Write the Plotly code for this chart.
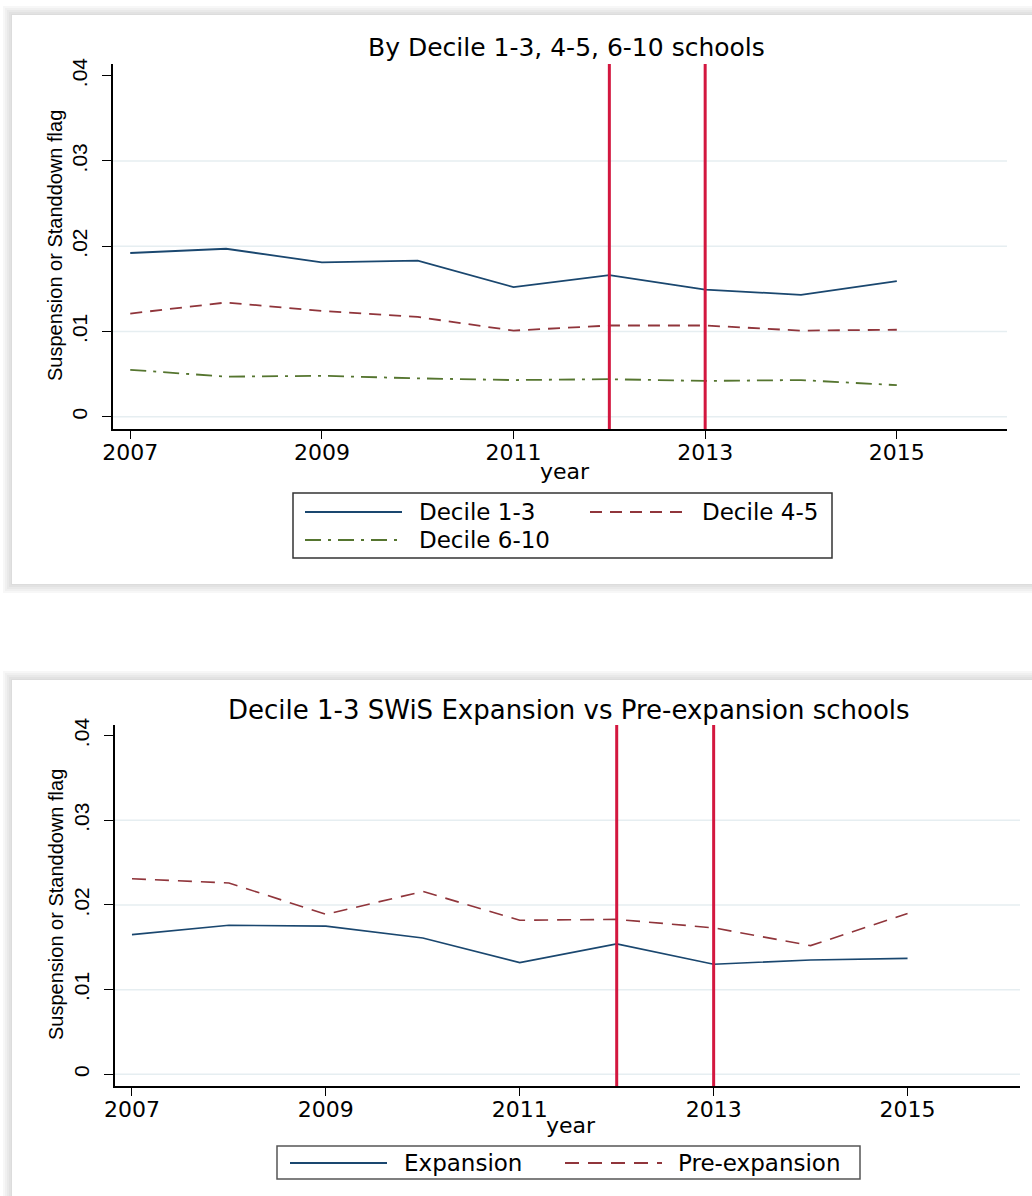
import plotly.graph_objects as go

W, H = 1032, 1196

years = [2007, 2008, 2009, 2010, 2011, 2012, 2013, 2014, 2015]
decile_1_3 = [0.0192, 0.0197, 0.0181, 0.0183, 0.0152, 0.0166, 0.0149, 0.0143, 0.0159]
decile_4_5 = [0.0121, 0.0134, 0.0124, 0.0117, 0.0101, 0.0107, 0.0107, 0.0101, 0.0102]
decile_6_10 = [0.0055, 0.0047, 0.0048, 0.0045, 0.0043, 0.0044, 0.0042, 0.0043, 0.0037]

expansion = [0.0165, 0.0176, 0.0175, 0.0161, 0.0132, 0.0154, 0.0130, 0.0135, 0.0137]
pre_expansion = [0.0231, 0.0226, 0.0189, 0.0216, 0.0182, 0.0183, 0.0173, 0.0152, 0.0190]

policy_years = [2012, 2013]
x_ticks = [2007, 2009, 2011, 2013, 2015]
y_ticks = [0, 0.01, 0.02, 0.03, 0.04]
y_tick_text = ["0", ".01", ".02", ".03", ".04"]
grid_vals = [0, 0.01, 0.02, 0.03]

title_top = "By Decile 1-3, 4-5, 6-10 schools"
title_bottom = "Decile 1-3 SWiS Expansion vs Pre-expansion schools"

NAVY = "#1a476f"
MAROON = "#90353b"
GREEN = "#55752f"
RED = "#d3173f"
GRID = "#e6eef1"
FONT = "DejaVu Sans, Liberation Sans, Arial, sans-serif"
VFONT = "Liberation Sans, Arial, sans-serif"


def px(x):
    return x / W


def py(y):
    return 1 - y / H


fig = go.Figure()

fig.add_trace(go.Scatter(x=years, y=decile_1_3, mode="lines", name="Decile 1-3",
                         line=dict(color=NAVY, width=1.8), xaxis="x", yaxis="y"))
fig.add_trace(go.Scatter(x=years, y=decile_4_5, mode="lines", name="Decile 4-5",
                         line=dict(color=MAROON, width=1.8, dash="12px,8px"), xaxis="x", yaxis="y"))
fig.add_trace(go.Scatter(x=years, y=decile_6_10, mode="lines", name="Decile 6-10",
                         line=dict(color=GREEN, width=1.8, dash="16px,7px,3px,7px"), xaxis="x", yaxis="y"))

fig.add_trace(go.Scatter(x=years, y=expansion, mode="lines", name="Expansion",
                         line=dict(color=NAVY, width=1.6), xaxis="x2", yaxis="y2"))
fig.add_trace(go.Scatter(x=years, y=pre_expansion, mode="lines", name="Pre-expansion",
                         line=dict(color=MAROON, width=1.6, dash="14px,9px"), xaxis="x2", yaxis="y2"))

shapes = []


def panel(x0, y0, x1, y1):
    for d, c in [(9, "#f7f7f7"), (7, "#f0f0f0"), (5, "#e9e9e9"), (3, "#e2e2e2"), (1, "#dcdcdc")]:
        shapes.append(dict(type="rect", xref="paper", yref="paper",
                           x0=px(x0 - d), x1=px(x1 + d), y0=py(y1 + d), y1=py(y0 - d),
                           fillcolor=c, line=dict(width=0), layer="below"))
    shapes.append(dict(type="rect", xref="paper", yref="paper",
                       x0=px(x0), x1=px(x1), y0=py(y1), y1=py(y0),
                       fillcolor="white", line=dict(width=0), layer="below"))


panel(12, 15, 1040, 584)
panel(12, 680, 1040, 1200)

# Gridlines (no gridline at the top tick)
for g in grid_vals:
    shapes.append(dict(type="line", xref="paper", yref="y", x0=px(113), x1=px(1007), y0=g, y1=g,
                       line=dict(color=GRID, width=1.5), layer="below"))
    shapes.append(dict(type="line", xref="paper", yref="y2", x0=px(115), x1=px(1020), y0=g, y1=g,
                       line=dict(color=GRID, width=1.5), layer="below"))

for yr in policy_years:
    shapes.append(dict(type="line", xref="x", yref="paper", x0=yr, x1=yr,
                       y0=py(429), y1=py(64), line=dict(color=RED, width=3)))
    shapes.append(dict(type="line", xref="x2", yref="paper", x0=yr, x1=yr,
                       y0=py(1086), y1=py(725), line=dict(color=RED, width=3)))

annotations = []

# Custom legend (top)
shapes.append(dict(type="rect", xref="paper", yref="paper",
                   x0=px(293), x1=px(832), y0=py(558), y1=py(493),
                   fillcolor="white", line=dict(color="#333333", width=1.5)))
leg_top = [
    ("Decile 1-3", NAVY, "solid", 305, 402, 417, 512),
    ("Decile 4-5", MAROON, "12px,8px", 590, 686, 700, 512),
    ("Decile 6-10", GREEN, "16px,7px,3px,7px", 305, 402, 417, 540),
]
for name, col, dash, a, b, tx, yy in leg_top:
    shapes.append(dict(type="line", xref="paper", yref="paper",
                       x0=px(a), x1=px(b), y0=py(yy), y1=py(yy),
                       line=dict(color=col, width=2, dash=dash)))
    annotations.append(dict(xref="paper", yref="paper", x=px(tx), y=py(yy),
                            text=name, showarrow=False, xanchor="left", yanchor="middle",
                            font=dict(family=FONT, size=23, color="black")))

# Custom legend (bottom)
shapes.append(dict(type="rect", xref="paper", yref="paper",
                   x0=px(277), x1=px(860), y0=py(1179), y1=py(1146),
                   fillcolor="white", line=dict(color="#555555", width=1.5)))
leg_bot = [
    ("Expansion", NAVY, "solid", 290, 387, 402, 1163),
    ("Pre-expansion", MAROON, "14px,9px", 565, 662, 676, 1163),
]
for name, col, dash, a, b, tx, yy in leg_bot:
    shapes.append(dict(type="line", xref="paper", yref="paper",
                       x0=px(a), x1=px(b), y0=py(yy), y1=py(yy),
                       line=dict(color=col, width=1.8, dash=dash)))
    annotations.append(dict(xref="paper", yref="paper", x=px(tx), y=py(yy),
                            text=name, showarrow=False, xanchor="left", yanchor="middle",
                            font=dict(family=FONT, size=23, color="black")))

# Titles
annotations.append(dict(xref="paper", yref="paper", x=px(566), y=py(47), text=title_top,
                        showarrow=False, xanchor="center", yanchor="middle",
                        font=dict(family=FONT, size=25, color="black")))
annotations.append(dict(xref="paper", yref="paper", x=px(569), y=py(710), text=title_bottom,
                        showarrow=False, xanchor="center", yanchor="middle",
                        font=dict(family=FONT, size=26, color="black")))

# Axis titles
for yc, xc in [(246, 55), (905, 56)]:
    annotations.append(dict(xref="paper", yref="paper", x=px(xc), y=py(yc),
                            text="Suspension or Standdown flag", textangle=-90,
                            showarrow=False, xanchor="center", yanchor="middle",
                            font=dict(family=VFONT, size=20, color="black")))
annotations.append(dict(xref="paper", yref="paper", x=px(565), y=py(472), text="year",
                        showarrow=False, xanchor="center", yanchor="middle",
                        font=dict(family=FONT, size=22, color="black")))
annotations.append(dict(xref="paper", yref="paper", x=px(571), y=py(1125), text="year",
                        showarrow=False, xanchor="center", yanchor="middle",
                        font=dict(family=FONT, size=22, color="black")))

xaxis_common = dict(
    tickvals=x_ticks, ticks="outside", ticklen=8, tickwidth=1.2, tickcolor="black",
    showline=True, linecolor="black", linewidth=1.5, showgrid=False, zeroline=False,
    tickfont=dict(family=FONT, size=22, color="black"), fixedrange=True,
    automargin=False, ticklabelstandoff=-5,
)
yaxis_common = dict(
    tickvals=y_ticks, ticktext=y_tick_text, ticks="outside", ticklen=9, tickwidth=1.2,
    tickcolor="black", tickangle=-90, showline=True, linecolor="black", linewidth=1.5,
    showgrid=False, zeroline=False,
    tickfont=dict(family=VFONT, size=21, color="black"), fixedrange=True,
    automargin=False, ticklabelstandoff=7,
)

fig.update_layout(
    template="none",
    width=W, height=H,
    margin=dict(l=0, r=0, t=0, b=0, pad=0),
    paper_bgcolor="white", plot_bgcolor="rgba(0,0,0,0)",
    showlegend=False,
    xaxis=dict(domain=[px(113), px(1007)], range=[2006.82, 2016.15], anchor="y", **xaxis_common),
    yaxis=dict(domain=[py(429), py(64)], range=[-0.00144, 0.04137], anchor="x", **yaxis_common),
    xaxis2=dict(domain=[px(115), px(1020)], range=[2006.825, 2016.16], anchor="y2", **xaxis_common),
    yaxis2=dict(domain=[py(1086), py(725)], range=[-0.00138, 0.04126], anchor="x2", **yaxis_common),
    shapes=shapes,
    annotations=annotations,
)

fig.write_html("out.html")
